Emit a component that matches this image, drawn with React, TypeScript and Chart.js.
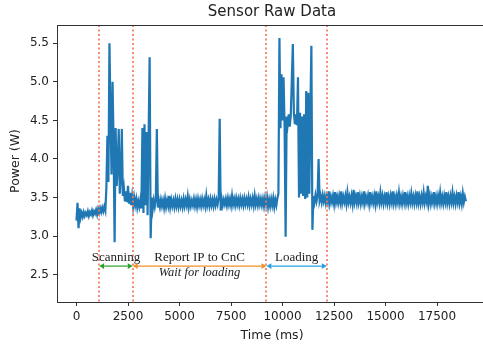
import React, { useEffect, useRef } from "react";
import { Chart, registerables } from "chart.js";

Chart.register(...registerables);

const TITLE = "Sensor Raw Data";
const X_LABEL = "Time (ms)";
const Y_LABEL = "Power (W)";
const X_TICKS = [0, 2500, 5000, 7500, 10000, 12500, 15000, 17500];
const Y_TICKS = [2.5, 3.0, 3.5, 4.0, 4.5, 5.0, 5.5];
const SAMPLE_INTERVAL_MS = 50;

// Power readings (W), one every 50 ms starting at t = 0
const POWER_W = [
  3.20, 3.43, 3.10, 3.36, 3.24, 3.30, 3.25, 3.31, 3.26, 3.30, 3.27, 3.32, 3.26, 3.31, 3.28, 3.33, 3.27, 3.32, 3.29, 3.34,
  3.28, 3.35, 3.30, 3.36, 3.31, 3.37, 3.32, 3.38, 3.33, 3.62, 4.30, 3.70, 5.50, 4.60, 3.80, 5.00, 4.20, 2.92, 4.40, 3.65,
  3.90, 4.39, 3.55, 3.75, 4.39, 3.52, 3.62, 3.45, 3.58, 3.44, 3.65, 3.42, 3.56, 3.40, 3.52, 3.38, 3.50, 3.40, 3.48, 3.37,
  3.45, 3.38, 3.47, 3.36, 4.40, 3.30, 4.45, 3.40, 4.35, 3.27, 4.30, 5.32, 2.97, 3.50, 3.35, 3.46, 3.38, 3.47, 4.39, 3.37,
  3.46, 3.38, 3.47, 3.39, 3.46, 3.37, 3.48, 3.38, 3.46, 3.39, 3.52, 3.38, 3.47, 3.39, 3.46, 3.38, 3.48, 3.39, 3.47, 3.38,
  3.47, 3.39, 3.46, 3.38, 3.48, 3.39, 3.47, 3.40, 3.51, 3.38, 3.47, 3.39, 3.46, 3.40, 3.48, 3.39, 3.47, 3.38, 3.48, 3.40,
  3.47, 3.39, 3.48, 3.40, 3.47, 3.39, 3.52, 3.40, 3.47, 3.39, 3.48, 3.40, 3.47, 3.39, 3.48, 3.40, 3.47, 3.41, 3.49, 4.52,
  3.33, 3.48, 3.40, 3.47, 3.41, 3.48, 3.40, 3.49, 3.41, 3.48, 3.40, 3.52, 3.41, 3.48, 3.40, 3.49, 3.41, 3.48, 3.40, 3.49,
  3.41, 3.48, 3.40, 3.49, 3.41, 3.48, 3.41, 3.50, 3.40, 3.48, 3.41, 3.49, 3.40, 3.52, 3.41, 3.48, 3.40, 3.49, 3.41, 3.48,
  3.40, 3.48, 3.39, 3.49, 3.41, 3.50, 3.38, 3.47, 3.39, 3.48, 3.40, 3.49, 3.38, 3.47, 3.40, 3.49, 3.55, 5.57, 4.40, 5.10,
  4.50, 5.06, 4.42, 2.99, 4.55, 4.45, 4.58, 4.42, 4.56, 5.02, 5.49, 4.60, 4.45, 4.58, 4.44, 5.06, 3.50, 4.60, 3.55, 4.55,
  3.52, 4.58, 3.48, 4.88, 3.50, 4.86, 3.55, 4.60, 5.47, 3.08, 3.52, 3.44, 3.53, 3.45, 3.52, 4.00, 3.46, 3.52, 3.44, 3.53,
  3.45, 3.52, 3.43, 3.51, 3.44, 3.58, 3.43, 3.51, 3.44, 3.52, 3.42, 3.57, 3.44, 3.51, 3.43, 3.52, 3.44, 3.58, 3.43, 3.51,
  3.44, 3.52, 3.42, 3.56, 3.44, 3.51, 3.43, 3.52, 3.42, 3.60, 3.44, 3.51, 3.43, 3.57, 3.44, 3.52, 3.42, 3.51, 3.44, 3.58,
  3.43, 3.51, 3.44, 3.52, 3.42, 3.57, 3.44, 3.51, 3.43, 3.52, 3.42, 3.58, 3.44, 3.51, 3.43, 3.56, 3.44, 3.52, 3.42, 3.51,
  3.44, 3.57, 3.43, 3.51, 3.42, 3.52, 3.44, 3.58, 3.43, 3.51, 3.42, 3.52, 3.44, 3.56, 3.43, 3.51, 3.42, 3.52, 3.44, 3.57,
  3.43, 3.51, 3.42, 3.52, 3.44, 3.55, 3.43, 3.51, 3.42, 3.52, 3.44, 3.58, 3.43, 3.51, 3.42, 3.52, 3.44, 3.56, 3.43, 3.51,
  3.44, 3.65, 3.43, 3.52, 3.42, 3.51, 3.44, 3.57, 3.43, 3.51, 3.42, 3.52, 3.44, 3.56, 3.43, 3.51, 3.42, 3.52, 3.44, 3.57,
  3.43, 3.51, 3.42, 3.52, 3.44, 3.56, 3.43, 3.51, 3.42, 3.52, 3.44, 3.57, 3.43, 3.51, 3.42, 3.55, 3.44, 3.51, 3.45,
];

// Phase boundaries (ms)
const BOUNDARIES_MS = [1100, 2730, 9220, 12150];
const PHASE_LABELS = ["Scanning", "Report IP to CnC", "Loading"];
const PHASE_SUBLABELS = ["", "Wait for loading", ""];
const PHASE_COLORS = ["#2ca02c", "#f28e2b", "#2b9fe0"];

const X_MIN = -946;
const X_MAX = 19730;
const Y_MIN = 2.144;
const Y_MAX = 5.738;
const ARROW_Y = 2.61;
const LABEL_Y = 2.681;
const SUBLABEL_Y = 2.48;

const annotationPlugin = {
  id: "annotations",
  afterDatasetsDraw(chart: any) {
    const { ctx, chartArea, scales } = chart;
    const xs = scales.x;
    const ys = scales.y;
    ctx.save();
    // boundaries
    ctx.strokeStyle = "rgba(240,120,90,0.85)";
    ctx.lineWidth = 2;
    ctx.setLineDash([2, 2.5]);
    BOUNDARIES_MS.forEach((b) => {
      const px = Math.round(xs.getPixelForValue(b));
      ctx.beginPath();
      ctx.moveTo(px, chartArea.top);
      ctx.lineTo(px, chartArea.bottom);
      ctx.stroke();
    });
    ctx.setLineDash([]);
    // arrows and labels
    const ay = ys.getPixelForValue(ARROW_Y);
    for (let i = 0; i < PHASE_LABELS.length; i++) {
      const x1 = xs.getPixelForValue(BOUNDARIES_MS[i]);
      const x2 = xs.getPixelForValue(BOUNDARIES_MS[i + 1]);
      const c = PHASE_COLORS[i];
      ctx.strokeStyle = c;
      ctx.fillStyle = c;
      ctx.lineWidth = 1.2;
      const head = 5;
      const hw = 2.8;
      ctx.beginPath();
      ctx.moveTo(x1 + head, ay);
      ctx.lineTo(x2 - head, ay);
      ctx.stroke();
      ctx.beginPath();
      ctx.moveTo(x1, ay);
      ctx.lineTo(x1 + head, ay - hw);
      ctx.lineTo(x1 + head, ay + hw);
      ctx.closePath();
      ctx.fill();
      ctx.beginPath();
      ctx.moveTo(x2, ay);
      ctx.lineTo(x2 - head, ay - hw);
      ctx.lineTo(x2 - head, ay + hw);
      ctx.closePath();
      ctx.fill();
      const cx = (x1 + x2) / 2;
      ctx.fillStyle = "#222";
      ctx.textAlign = "center";
      ctx.textBaseline = "alphabetic";
      ctx.font = "13px 'Liberation Serif', serif";
      ctx.fillText(PHASE_LABELS[i], cx, ys.getPixelForValue(LABEL_Y));
      if (PHASE_SUBLABELS[i]) {
        ctx.font = "italic 12.5px 'Liberation Serif', serif";
        ctx.fillText(PHASE_SUBLABELS[i], cx, ys.getPixelForValue(SUBLABEL_Y));
      }
    }
    ctx.restore();
  },
  afterDraw(chart: any) {
    const { ctx, chartArea } = chart;
    ctx.save();
    // top spine
    ctx.strokeStyle = "#333";
    ctx.lineWidth = 1;
    ctx.beginPath();
    ctx.moveTo(chartArea.left, chartArea.top + 0.5);
    ctx.lineTo(chartArea.right, chartArea.top + 0.5);
    ctx.stroke();
    ctx.fillStyle = "#222";
    ctx.textAlign = "center";
    ctx.textBaseline = "middle";
    ctx.font = "15px 'DejaVu Sans'";
    ctx.fillText(TITLE, 272, 12);
    ctx.font = "12.5px 'DejaVu Sans'";
    ctx.fillText(X_LABEL, 272, 336);
    ctx.translate(16, 161);
    ctx.rotate(-Math.PI / 2);
    ctx.fillText(Y_LABEL, 0, 0);
    ctx.restore();
  },
};

export default function App() {
  const ref = useRef<HTMLCanvasElement | null>(null);
  useEffect(() => {
    if (!ref.current) return;
    const points = POWER_W.map((v, i) => ({ x: i * SAMPLE_INTERVAL_MS, y: v }));
    const chart = new Chart(ref.current, {
      type: "line",
      data: {
        datasets: [
          {
            data: points,
            borderColor: "#1f77b4",
            borderWidth: 2.2,
            pointRadius: 0,
            tension: 0,
            fill: false,
          },
        ],
      },
      options: {
        animation: false,
        responsive: false,
        maintainAspectRatio: false,
        layout: { padding: { top: 25, right: 0, left: 0, bottom: 0 } },
        plugins: { legend: { display: false }, tooltip: { enabled: false }, title: { display: false } },
        scales: {
          x: {
            type: "linear",
            min: X_MIN,
            max: X_MAX,
            afterBuildTicks: (axis: any) => {
              axis.ticks = X_TICKS.map((v) => ({ value: v }));
            },
            afterFit: (axis: any) => {
              axis.height = 45;
            },
            grid: { drawOnChartArea: false, drawTicks: true, tickLength: 4, color: "#333" },
            border: { display: true, color: "#333", width: 1 },
            ticks: {
              color: "#222",
              font: { family: "'DejaVu Sans'", size: 12 },
              padding: 4,
              maxRotation: 0,
              autoSkip: false,
              callback: (v: any) => String(v),
            },
          },
          y: {
            type: "linear",
            min: Y_MIN,
            max: Y_MAX,
            afterBuildTicks: (axis: any) => {
              axis.ticks = Y_TICKS.map((v) => ({ value: v }));
            },
            afterFit: (axis: any) => {
              axis.width = 57;
            },
            grid: { drawOnChartArea: false, drawTicks: true, tickLength: 4, color: "#333" },
            border: { display: true, color: "#333", width: 1 },
            ticks: {
              color: "#222",
              font: { family: "'DejaVu Sans'", size: 12 },
              padding: 4,
              autoSkip: false,
              callback: (v: any) => Number(v).toFixed(1),
            },
          },
        },
      },
      plugins: [annotationPlugin],
    });
    return () => chart.destroy();
  }, []);
  return (
    <div style={{ position: "fixed", left: 0, top: 0, width: 483, height: 347, overflow: "hidden", background: "#fff" }}>
      <canvas ref={ref} width={483} height={347} style={{ display: "block", width: 483, height: 347 }} />
    </div>
  );
}
